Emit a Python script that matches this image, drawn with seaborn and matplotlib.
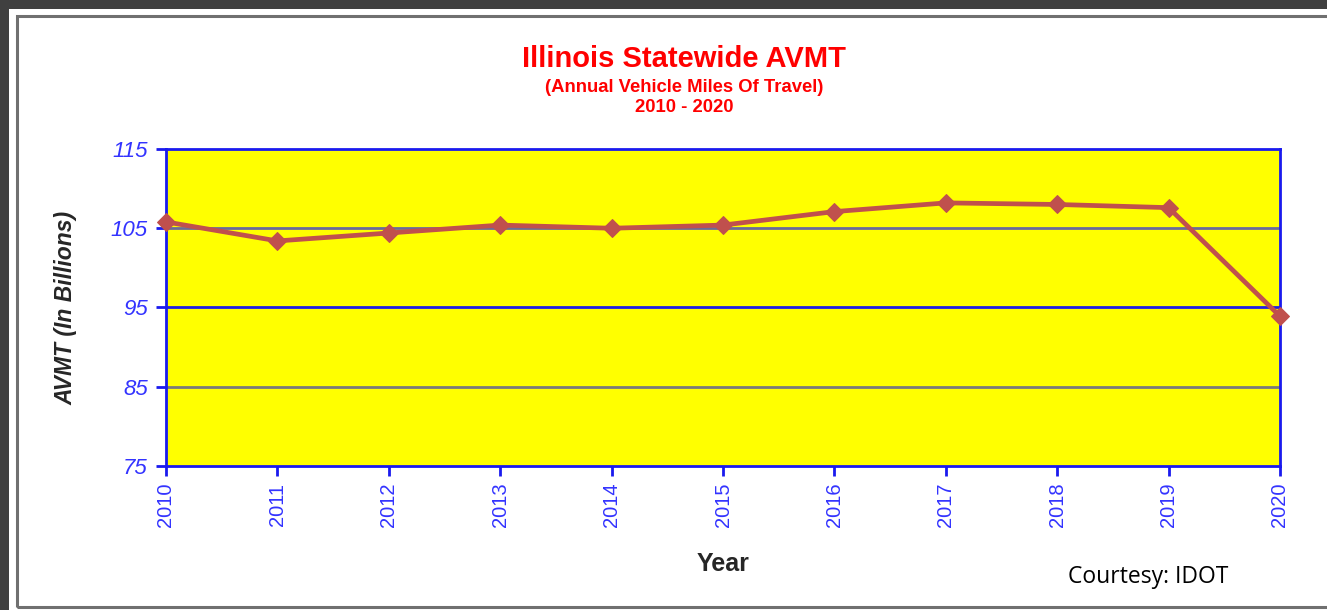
import pandas as pd
import matplotlib.pyplot as plt
import seaborn as sns
from matplotlib.patches import Rectangle

# datos
years = [2010, 2011, 2012, 2013, 2014, 2015, 2016, 2017, 2018, 2019, 2020]
avmt = [105.8, 103.4, 104.4, 105.4, 105.0, 105.4, 107.1, 108.2, 108.0, 107.6, 93.9]
y_ticks = [75, 85, 95, 105, 115]

df = pd.DataFrame({'Year': years, 'AVMT': avmt})

sns.set_style("white")
plt.rcParams['font.family'] = ['Liberation Sans', 'DejaVu Sans']

W, H = 1327, 610
fig = plt.figure(figsize=(W / 100, H / 100), dpi=100)

# marco de fondo (captura de pantalla)
fig.patches.append(Rectangle((0, 0), 1, 1, transform=fig.transFigure,
                             facecolor='#404040', edgecolor='none', zorder=-3))
fig.patches.append(Rectangle((9 / W, 0), 1, 1 - 9 / H, transform=fig.transFigure,
                             facecolor='white', edgecolor='none', zorder=-2))
fig.patches.append(Rectangle((17 / W, 3 / H), 1.1, 1 - 19 / H, transform=fig.transFigure,
                             facecolor='none', edgecolor='#707070', lw=2.2, zorder=-1))

ax = fig.add_axes([166 / W, 1 - 466 / H, (1280 - 166) / W, (466 - 149) / H])
ax.set_facecolor('#ffff00')

sns.lineplot(data=df, x='Year', y='AVMT', ax=ax, color='#c0504d', lw=3.4,
             marker='D', markersize=9, markeredgecolor='#c0504d', clip_on=False, zorder=5)

ax.set_xlim(2010, 2020)
ax.set_ylim(75, 115)
ax.set_yticks(y_ticks)
ax.set_xticks(years)
ax.set_xticklabels([str(y) for y in years], rotation=90)

ax.yaxis.grid(True, lw=2)
grid_colors = {85: '#7a7a7a', 95: '#2020e0', 105: '#6a6a9a'}
for val, gl in zip(y_ticks, ax.get_ygridlines()):
    gl.set_color(grid_colors.get(val, 'none'))

for s in ax.spines.values():
    s.set_color('#1a1aee')
    s.set_linewidth(2)

ax.tick_params(axis='both', colors='#1a1aee', length=7, width=2, direction='out',
               labelcolor='#3333ff', bottom=True, left=True)
ax.tick_params(axis='y', pad=6, labelsize=16)
ax.tick_params(axis='x', pad=5, labelsize=14.5)
for lab in ax.get_yticklabels():
    lab.set_style('italic')

ax.set_xlabel('Year', fontsize=18, fontweight='bold', labelpad=18)
ax.set_ylabel('AVMT (In Billions)', fontsize=16.5, fontweight='bold', style='italic', labelpad=24)

fig.text(684 / W, 1 - 59 / H, 'Illinois Statewide AVMT', color='#ff0000',
         fontsize=21, fontweight='bold', ha='center', va='center')
fig.text(684 / W, 1 - 87 / H, '(Annual Vehicle Miles Of Travel)', color='#ff0000',
         fontsize=13.3, fontweight='bold', ha='center', va='center')
fig.text(684 / W, 1 - 108 / H, '2010 - 2020', color='#ff0000',
         fontsize=13.3, fontweight='bold', ha='center', va='center')
fig.text(1148 / W, 1 - 577 / H, 'Courtesy: IDOT', color='black',
         fontsize=16.5, ha='center', va='center', family=['Open Sans', 'DejaVu Sans'])

fig.savefig('out.png', dpi=100)
